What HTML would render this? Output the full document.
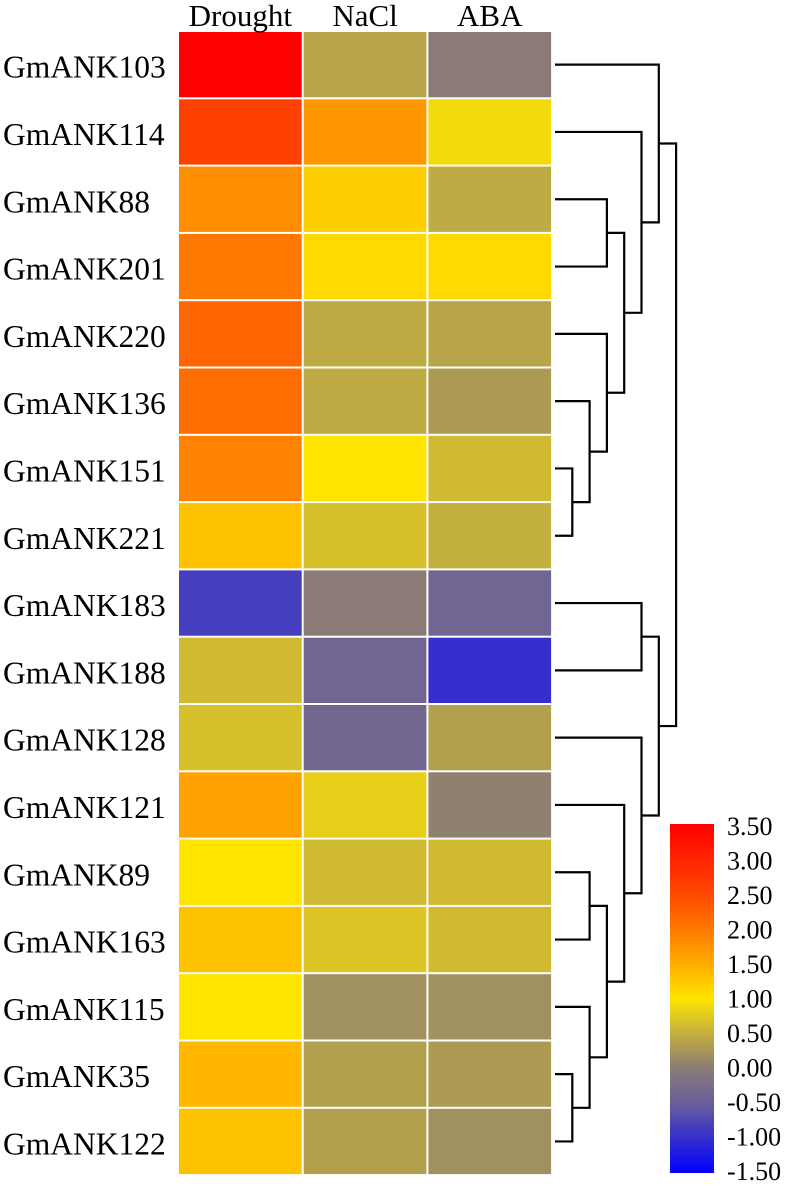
<!DOCTYPE html>
<html><head><meta charset="utf-8"><style>
html,body{margin:0;padding:0;background:#fff;}
svg{display:block;font-family:"Liberation Serif",serif;}
</style></head><body>
<svg id="chart" width="787" height="1186" viewBox="0 0 787 1186">
<defs>
<linearGradient id="cbar" x1="0" y1="1" x2="0" y2="0">
<stop offset="0" stop-color="#0000ff"/>
<stop offset="0.2" stop-color="#6a5f9a"/>
<stop offset="0.3" stop-color="#8a7b76"/>
<stop offset="0.4" stop-color="#c4b03e"/>
<stop offset="0.5" stop-color="#ffe400"/>
<stop offset="0.6" stop-color="#ffac00"/>
<stop offset="0.7" stop-color="#ff7800"/>
<stop offset="0.8" stop-color="#ff4800"/>
<stop offset="1" stop-color="#ff0000"/>
</linearGradient>
</defs>
<g id="cells"></g>
<g id="rowlabels"></g>
<g id="collabels"></g>
<g id="dendro" stroke="#000" stroke-width="2.2" fill="none"></g>
<rect x="670" y="824" width="44" height="349" fill="url(#cbar)"/>
<g id="cblabels"></g>
</svg>
<script>
const genes = ["GmANK103","GmANK114","GmANK88","GmANK201","GmANK220","GmANK136","GmANK151","GmANK221","GmANK183","GmANK188","GmANK128","GmANK121","GmANK89","GmANK163","GmANK115","GmANK35","GmANK122"];
const conditions = ["Drought","NaCl","ABA"];
const drought = [3.5,2.6,1.8,2.0,2.2,2.1,1.9,1.3,-0.85,0.6,0.65,1.6,1.0,1.3,1.0,1.4,1.3];
const nacl = [0.4,1.7,1.2,1.1,0.45,0.45,1.0,0.65,0.0,-0.4,-0.35,0.8,0.6,0.7,0.2,0.35,0.35];
const aba = [0.0,0.9,0.45,1.1,0.4,0.3,0.6,0.5,-0.4,-1.0,0.35,0.05,0.6,0.6,0.2,0.3,0.2];
const scaleTicks = ["3.50","3.00","2.50","2.00","1.50","1.00","0.50","0.00","-0.50","-1.00","-1.50"];
// merges: [childA, childB, height]; leaves are indices 0..16, merge n gets id 17+n
const merges = [[6,7,1],[5,17,2],[4,18,3],[2,3,3],[20,19,4],[1,21,5],[0,22,6],
[15,16,1],[14,24,2],[12,13,2],[26,25,3],[11,27,4],[10,28,5],[8,9,5],[30,29,6],[23,31,7]];

const NS="http://www.w3.org/2000/svg";
const x0=178,colW=124.7,y0=31,rowH=67.3;
const stops=[[-1.5,[0,0,255]],[-0.5,[106,95,154]],[0,[138,123,118]],[0.5,[196,176,62]],[1.0,[255,228,0]],[1.5,[255,172,0]],[2.0,[255,120,0]],[2.5,[255,72,0]],[3.5,[255,0,0]]];
function color(v){
  if(v<=stops[0][0])return "rgb("+stops[0][1]+")";
  for(let i=1;i<stops.length;i++){if(v<=stops[i][0]){const [a,ca]=stops[i-1],[b,cb]=stops[i];const t=(v-a)/(b-a);return "rgb("+ca.map((c,k)=>Math.round(c+(cb[k]-c)*t)).join(",")+")";}}
  return "rgb(255,0,0)";
}
function rowY(i){return y0+i*rowH;}
function colX(j){return x0+j*colW;}
const series=[drought,nacl,aba];
const cells=document.getElementById("cells");
genes.forEach((g,i)=>{
  series.forEach((s,j)=>{
    const r=document.createElementNS(NS,"rect");
    r.setAttribute("x",colX(j)+1);r.setAttribute("y",rowY(i)+1);
    r.setAttribute("width",colW-2);r.setAttribute("height",rowH-2);
    r.setAttribute("fill",color(s[i]));
    
    
    cells.appendChild(r);
  });
  const t=document.createElementNS(NS,"text");
  t.setAttribute("x",3);t.setAttribute("y",rowY(i)+rowH/2+13);
  t.setAttribute("font-size","31.5");
  t.textContent=g;
  
  
  document.getElementById("rowlabels").appendChild(t);
});
conditions.forEach((c,j)=>{
  const t=document.createElementNS(NS,"text");
  t.setAttribute("x",colX(j)+colW/2);t.setAttribute("y",26);
  t.setAttribute("font-size","31");t.setAttribute("text-anchor","middle");
  t.textContent=c;
  
  
  document.getElementById("collabels").appendChild(t);
});
// dendrogram
const dx0=555,levelW=17.3;
const nodeY=genes.map((g,i)=>rowY(i)+rowH/2),nodeX=genes.map(()=>dx0);
const dg=document.getElementById("dendro");
merges.forEach(([a,b,h])=>{
  const x=dx0+h*levelW;
  const p=document.createElementNS(NS,"path");
  p.setAttribute("d",`M${nodeX[a]},${nodeY[a]}H${x}V${nodeY[b]}H${nodeX[b]}`);
  
  
  dg.appendChild(p);
  nodeY.push((nodeY[a]+nodeY[b])/2);nodeX.push(x);
});
const cb=document.getElementById("cblabels");
scaleTicks.forEach((s,i)=>{
  const t=document.createElementNS(NS,"text");
  t.setAttribute("x",727);t.setAttribute("y",835+i*34.5);
  t.setAttribute("font-size","26");
  t.textContent=s;
  
  
  cb.appendChild(t);
});
</script>
</body></html>
